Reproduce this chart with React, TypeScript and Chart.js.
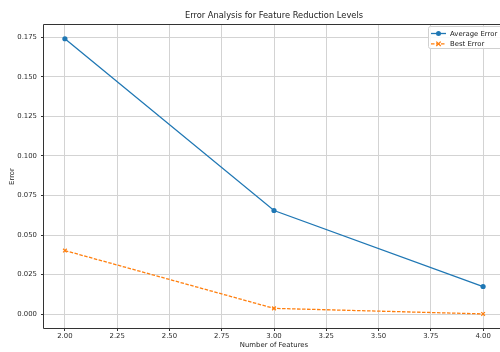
import { useEffect, useRef } from 'react';
import { Chart, registerables } from 'chart.js';

Chart.register(...registerables);

const featureCounts = [2, 3, 4];
const averageError = [0.174, 0.0655, 0.0175];
const bestError = [0.0402, 0.0037, 0.0002];
const xTickValues = [2, 2.25, 2.5, 2.75, 3, 3.25, 3.5, 3.75, 4];
const yTickValues = [0, 0.025, 0.05, 0.075, 0.1, 0.125, 0.15, 0.175];
const seriesLabels = ['Average Error', 'Best Error'];
const titleText = 'Error Analysis for Feature Reduction Levels';
const xLabel = 'Number of Features';
const yLabel = 'Error';

const FONT = '"DejaVu Sans", sans-serif';
const BLUE = '#1f77b4';
const ORANGE = '#ff7f0e';
const PLOT_RIGHT = 504; // the axes extend slightly past the visible canvas edge

const extendAreaPlugin = {
  id: 'extendArea',
  afterLayout(chart: any) {
    const extra = PLOT_RIGHT - chart.chartArea.right;
    if (extra <= 0) return;
    chart.chartArea.right += extra;
    chart.chartArea.width += extra;
    const xs = chart.scales.x;
    xs.right += extra;
    xs.width += extra;
    xs.configure();
    if (chart.titleBlock) {
      chart.titleBlock.right += extra;
      chart.titleBlock.width += extra;
    }
  },
};

const framePlugin = {
  id: 'frame',
  afterDatasetsDraw(chart: any) {
    const { ctx, chartArea } = chart;
    const l = Math.round(chartArea.left) - 0.5;
    const t = Math.round(chartArea.top) - 0.5;
    const b = Math.round(chartArea.bottom) + 0.5;
    const r = chartArea.right;
    ctx.save();
    ctx.strokeStyle = '#333333';
    ctx.lineWidth = 1;
    ctx.beginPath();
    ctx.moveTo(r, t);
    ctx.lineTo(l, t);
    ctx.lineTo(l, b);
    ctx.lineTo(r, b);
    ctx.stroke();
    ctx.restore();
  },
};

const legendPlugin = {
  id: 'mplLegend',
  afterDraw(chart: any) {
    const { ctx } = chart;
    const x0 = 428.5;
    const y0 = 26.5;
    const w = 80;
    const h = 22;
    ctx.save();
    ctx.fillStyle = 'rgba(255,255,255,0.85)';
    ctx.strokeStyle = '#d0d0d0';
    ctx.lineWidth = 1;
    ctx.beginPath();
    (ctx as any).roundRect(x0, y0, w, h, 2);
    ctx.fill();
    ctx.stroke();
    chart.data.datasets.forEach((ds: any, i: number) => {
      const y = 33.5 + i * 10.3;
      ctx.strokeStyle = ds.borderColor;
      ctx.lineWidth = 1.3;
      ctx.setLineDash(ds.borderDash || []);
      ctx.beginPath();
      ctx.moveTo(431, y);
      ctx.lineTo(446, y);
      ctx.stroke();
      ctx.setLineDash([]);
      const cx = 438.5;
      if (ds.pointStyle === 'circle') {
        ctx.fillStyle = ds.borderColor;
        ctx.beginPath();
        ctx.arc(cx, y, 2.5, 0, Math.PI * 2);
        ctx.fill();
      } else {
        const r = 2.2;
        ctx.beginPath();
        ctx.moveTo(cx - r, y - r);
        ctx.lineTo(cx + r, y + r);
        ctx.moveTo(cx - r, y + r);
        ctx.lineTo(cx + r, y - r);
        ctx.stroke();
      }
      ctx.fillStyle = '#1a1a1a';
      ctx.font = `6.9px ${FONT}`;
      ctx.textAlign = 'left';
      ctx.textBaseline = 'middle';
      ctx.fillText(ds.label, 450, y + 0.5);
    });
    ctx.restore();
  },
};

export default function App() {
  const ref = useRef<HTMLCanvasElement | null>(null);

  useEffect(() => {
    if (!ref.current) return;
    const chart = new Chart(ref.current, {
      type: 'line',
      data: {
        datasets: [
          {
            label: seriesLabels[0],
            data: featureCounts.map((x, i) => ({ x, y: averageError[i] })),
            borderColor: BLUE,
            backgroundColor: BLUE,
            borderWidth: 1.3,
            pointStyle: 'circle',
            pointRadius: 2.6,
            pointBorderWidth: 0,
            pointBackgroundColor: BLUE,
            tension: 0,
          },
          {
            label: seriesLabels[1],
            data: featureCounts.map((x, i) => ({ x, y: bestError[i] })),
            borderColor: ORANGE,
            backgroundColor: ORANGE,
            borderWidth: 1.3,
            borderDash: [3.5, 1.5],
            pointStyle: 'crossRot',
            pointRadius: 2.6,
            pointBorderWidth: 1.2,
            pointBorderColor: ORANGE,
            tension: 0,
          },
        ],
      },
      options: {
        animation: false,
        responsive: false,
        devicePixelRatio: 1,
        layout: { padding: { left: 0, right: 0, top: 0, bottom: 0 } },
        plugins: {
          legend: { display: false },
          tooltip: { enabled: false },
          title: {
            display: true,
            fullSize: false,
            text: titleText,
            color: '#1a1a1a',
            font: { family: FONT, size: 8.3, weight: 'normal' },
            padding: { top: 11, bottom: 4 },
          },
        },
        scales: {
          x: {
            type: 'linear',
            min: 1.9,
            max: 4.1,
            afterBuildTicks: (scale: any) => {
              scale.ticks = xTickValues.map((v) => ({ value: v }));
            },
            afterFit: (scale: any) => {
              scale.height = 24;
            },
            grid: {
              color: '#d3d3d3',
              lineWidth: 1,
              drawTicks: true,
              tickLength: 3,
              tickColor: '#333333',
            },
            border: { display: false },
            ticks: {
              color: '#2a2a2a',
              font: { family: FONT, size: 6.9 },
              padding: 1,
              maxRotation: 0,
              autoSkip: false,
              callback: (v: any) => Number(v).toFixed(2),
            },
            title: {
              display: true,
              text: xLabel,
              color: '#1a1a1a',
              font: { family: FONT, size: 6.9 },
              padding: { top: 0, bottom: 3 },
            },
          },
          y: {
            type: 'linear',
            min: -0.0087,
            max: 0.1827,
            afterBuildTicks: (scale: any) => {
              scale.ticks = yTickValues.map((v) => ({ value: v }));
            },
            afterFit: (scale: any) => {
              scale.width = 44;
            },
            grid: {
              color: '#d3d3d3',
              lineWidth: 1,
              drawTicks: true,
              tickLength: 3,
              tickColor: '#333333',
            },
            border: { display: false },
            ticks: {
              color: '#2a2a2a',
              font: { family: FONT, size: 6.9 },
              padding: 4,
              autoSkip: false,
              callback: (v: any) => Number(v).toFixed(3),
            },
            title: {
              display: true,
              text: yLabel,
              color: '#1a1a1a',
              font: { family: FONT, size: 6.9 },
              padding: { top: 8, bottom: 0 },
            },
          },
        },
      },
      plugins: [extendAreaPlugin, framePlugin, legendPlugin],
    });
    return () => chart.destroy();
  }, []);

  return (
    <div
      style={{
        position: 'absolute',
        left: 0,
        top: 0,
        width: 500,
        height: 352,
        overflow: 'hidden',
        background: '#ffffff',
      }}
    >
      <canvas ref={ref} width={500} height={352} style={{ display: 'block' }} />
    </div>
  );
}
